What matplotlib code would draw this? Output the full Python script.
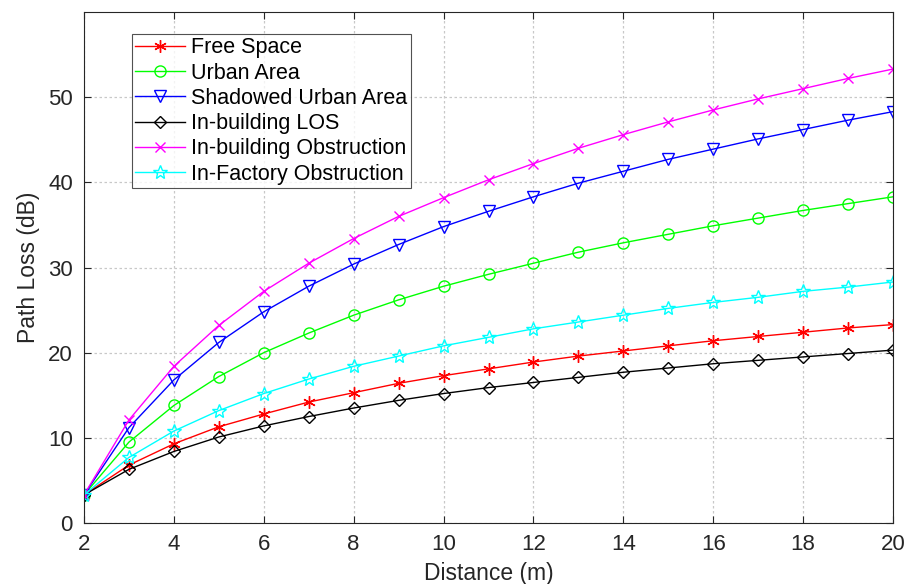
import matplotlib.pyplot as plt

plt.rcParams['font.family'] = ['Liberation Sans', 'DejaVu Sans']

# distance (m)
dist = [2, 3, 4, 5, 6, 7, 8, 9, 10, 11, 12, 13, 14, 15, 16, 17, 18, 19, 20]

# path loss (dB)
free_space = [3.3, 6.8, 9.3, 11.3, 12.8, 14.2, 15.3, 16.4, 17.3, 18.1,
              18.9, 19.6, 20.2, 20.8, 21.4, 21.9, 22.4, 22.9, 23.3]
urban = [3.3, 9.5, 13.8, 17.2, 20.0, 22.3, 24.4, 26.2, 27.8, 29.2,
         30.5, 31.8, 32.9, 33.9, 34.9, 35.8, 36.7, 37.5, 38.3]
shadowed = [3.3, 11.2, 16.8, 21.2, 24.8, 27.8, 30.4, 32.7, 34.8, 36.6,
            38.3, 39.9, 41.3, 42.7, 43.9, 45.1, 46.2, 47.3, 48.3]
inb_los = [3.3, 6.3, 8.4, 10.1, 11.4, 12.5, 13.5, 14.4, 15.2, 15.9,
           16.5, 17.1, 17.7, 18.2, 18.7, 19.1, 19.5, 19.9, 20.3]
inb_obs = [3.3, 12.1, 18.4, 23.2, 27.2, 30.5, 33.4, 36.0, 38.2, 40.3,
           42.2, 44.0, 45.6, 47.1, 48.5, 49.8, 51.0, 52.2, 53.3]
factory = [3.3, 7.7, 10.8, 13.2, 15.2, 16.9, 18.4, 19.6, 20.8, 21.8,
           22.8, 23.6, 24.4, 25.2, 25.9, 26.5, 27.2, 27.7, 28.3]

fig = plt.figure(figsize=(9.1, 5.84), dpi=100)
ax = fig.add_axes([84/910, 1 - 523/584, (893-84)/910, (523-12)/584])

kw = dict(lw=1, mfc='none', mew=1)
ax.plot(dist, free_space, '-', marker=(6, 2, 0), ms=9, color='red',
        label='Free Space', **kw)
ax.plot(dist, urban, '-o', ms=8, color='#00ff00', label='Urban Area', **kw)
ax.plot(dist, shadowed, '-v', ms=8, color='blue', label='Shadowed Urban Area', **kw)
ax.plot(dist, inb_los, '-D', ms=6.5, color='black', label='In-building LOS', **kw)
ax.plot(dist, inb_obs, '-x', ms=7, color='magenta',
        label='In-building Obstruction', **kw)
ax.plot(dist, factory, '-*', ms=10, color='cyan',
        label='In-Factory Obstruction', **kw)

ax.set_xlim(2, 20)
ax.set_ylim(0, 60)
ax.set_xticks(range(2, 21, 2))
ax.set_yticks(range(0, 51, 10))
ax.tick_params(direction='in', top=True, right=True, labelsize=16,
               colors='#262626', length=5, pad=8)
ax.grid(True, ls=(0, (2, 2)), color='#c8c8c8', lw=0.9)
for s in ax.spines.values():
    s.set_color('#262626')

ax.set_xlabel('Distance (m)', fontsize=16.5, color='#262626', labelpad=5)
ax.set_ylabel('Path Loss (dB)', fontsize=16.5, color='#262626', labelpad=6)

leg = ax.legend(loc='upper left', bbox_to_anchor=(48/809, 1 - 22/511),
                fontsize=15.5, frameon=True, fancybox=False, handlelength=2.3,
                borderpad=0.15, labelspacing=0.2, handletextpad=0.3,
                borderaxespad=0)
leg.get_frame().set_edgecolor('#262626')
leg.get_frame().set_linewidth(0.8)

fig.savefig('out.png', dpi=100)
